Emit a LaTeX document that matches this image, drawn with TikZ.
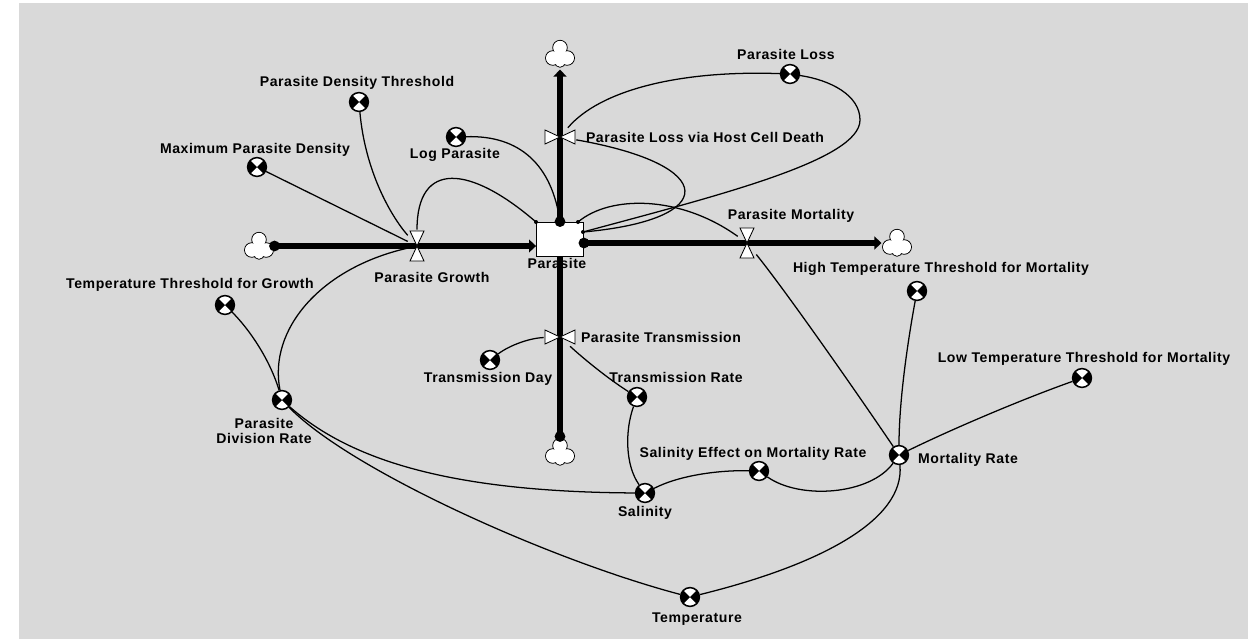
\documentclass[tikz,border=0pt]{standalone}
\usepackage{fontspec}
\setmainfont{Liberation Sans}[LetterSpace=4]
\usetikzlibrary{arrows.meta}

\definecolor{bg}{gray}{0.85}

\tikzstyle{dot} = [circle, minimum width=0.1cm, fill, inner sep=0pt]
\tikzstyle{bigdot} = [circle, minimum width=0.27cm, fill, inner sep=0pt]
\tikzstyle{txt} = [font=\bfseries\fontsize{10}{10.7}\selectfont, inner sep=0pt]
\tikzstyle{lbl} = [txt, text height=7.2pt, text depth=0pt]
\tikzstyle{stock} = [rectangle, draw, line width=0.6pt, fill=white, minimum width=1.175cm, minimum height=0.85cm]
\tikzstyle{conv} = [circle, draw, line width=1.1pt, fill=white, minimum size=0.47cm, inner sep=0pt,
  path picture={
    \fill[black] (path picture bounding box.center) -- +(-45:0.3cm) arc[start angle=-45, end angle=45, radius=0.3cm] -- cycle;
    \fill[black] (path picture bounding box.center) -- +(135:0.3cm) arc[start angle=135, end angle=225, radius=0.3cm] -- cycle;}]
\tikzstyle{vvalve} = [rectangle, inner sep=0pt, minimum width=0.45cm, minimum height=0.8cm,
  path picture={
    \draw[fill=white, line width=0.6pt]
      (path picture bounding box.center) -- +(-0.175cm,0.375cm) -- +(0.175cm,0.375cm) -- cycle
      (path picture bounding box.center) -- +(-0.175cm,-0.375cm) -- +(0.175cm,-0.375cm) -- cycle;}]
\tikzstyle{hvalve} = [rectangle, inner sep=0pt, minimum width=0.8cm, minimum height=0.45cm,
  path picture={
    \draw[fill=white, line width=0.6pt]
      (path picture bounding box.center) -- +(-0.375cm,-0.175cm) -- +(-0.375cm,0.175cm) -- cycle
      (path picture bounding box.center) -- +(0.375cm,-0.175cm) -- +(0.375cm,0.175cm) -- cycle;}]
% cloud: three puffs and a small one
\tikzstyle{cloudy} = [rectangle, inner sep=0pt, minimum size=0.76cm,
  path picture={
    \draw[line width=0.7pt]
      (path picture bounding box.center) +(0,0.16cm) circle[radius=0.18cm]
      +(-0.18cm,-0.1cm) circle[radius=0.18cm] +(0.18cm,-0.1cm) circle[radius=0.18cm]
      +(0,-0.2cm) circle[radius=0.13cm];
    \fill[white]
      (path picture bounding box.center) +(0,0.16cm) circle[radius=0.168cm]
      +(-0.18cm,-0.1cm) circle[radius=0.168cm] +(0.18cm,-0.1cm) circle[radius=0.168cm]
      +(0,-0.2cm) circle[radius=0.118cm] +(0,0) circle[radius=0.15cm];}]
\tikzstyle{pipe} = [line width=4.2pt]
\tikzstyle{link} = [line width=0.9pt]

\begin{document}
\begin{tikzpicture}[x=0.025cm, y=-0.025cm]
\fill[white] (0,0) rectangle (1248,639);
\fill[bg] (19,3) rectangle (1248,639);
%\draw[step=50, very thin, black!20] (0,0) grid (1248,639);

% stock, flows and clouds
\node[stock] (P) at (560,239) {};
\node[lbl] (Plab) at (557,263) {Parasite};
\node[cloudy] (CL) at (259,246) {};
\node[cloudy] (CT) at (560,54) {};
\node[cloudy] (CR) at (897,243) {};
\node[cloudy] (CB) at (560,452) {};
\draw[pipe, -{Triangle[length=5pt, width=9pt]}] (CL.east) -- (P.west |- 0,246);
\draw[pipe, -{Triangle[length=5pt, width=9pt]}] (P.north) -- (CT.south);
\draw[pipe, -{Triangle[length=5pt, width=9pt]}] (P.east |- 0,243) -- (CR.west);
\draw[pipe] (CB.north) -- (P.south);
\node[vvalve] (PG) at (417,246) {};
\node[vvalve] (PM) at (747,243) {};
\node[hvalve] (PLHD) at (560,137) {};
\node[hvalve] (PT) at (560,337) {};
\node[bigdot] (d1) at (CL.east) {};
\node[bigdot] (d2) at (P.north) {};
\node[bigdot] (d3) at (P.east |- PM) {};
\node[bigdot] (d4) at (CB.north) {};

% converters
\node[conv] (PDT) at (359,102) {};
\node[conv] (MPD) at (257,167) {};
\node[conv] (LP) at (456,137) {};
\node[conv] (PL) at (790,74) {};
\node[conv] (TTG) at (225,305) {};
\node[conv] (PDR) at (282,400) {};
\node[conv] (TD) at (490,360) {};
\node[conv] (TR) at (637,397) {};
\node[conv] (Sal) at (645,493) {};
\node[conv] (SEMR) at (759,471) {};
\node[conv] (MR) at (899,455) {};
\node[conv] (HTTM) at (917,291) {};
\node[conv] (LTTM) at (1082,378) {};
\node[conv] (Temp) at (690,597) {};

% labels
\node[lbl] at (357,81) {Parasite Density Threshold};
\node[lbl] at (255,148) {Maximum Parasite Density};
\node[lbl] at (455,153) {Log Parasite};
\node[lbl] at (786,54) {Parasite Loss};
\node[lbl] at (705,137) {Parasite Loss via Host Cell Death};
\node[lbl] at (432,277) {Parasite Growth};
\node[lbl] at (791,214) {Parasite Mortality};
\node[lbl] at (941,267) {High Temperature Threshold for Mortality};
\node[lbl] at (1084,357) {Low Temperature Threshold for Mortality};
\node[lbl] at (190,283) {Temperature Threshold for Growth};
\node[txt, align=center, anchor=north] at (264,418) {Parasite\\Division Rate};
\node[lbl] at (488,377) {Transmission Day};
\node[lbl] at (676,377) {Transmission Rate};
\node[lbl] at (661,337) {Parasite Transmission};
\node[lbl] at (645,511) {Salinity};
\node[lbl] at (753,452) {Salinity Effect on Mortality Rate};
\node[lbl] at (968,458) {Mortality Rate};
\node[lbl] at (697,617) {Temperature};

% connectors
\coordinate (p1) at (536,222);
\coordinate (p2) at (578,222);
\coordinate (p3) at (583,232);
\draw[link] (p1) .. controls (470,165) and (417,160) .. (PG.north);
\draw[link] (MPD) -- (PG);
\draw[link] (PDT) .. controls (365,170) and (390,215) .. (PG);
\draw[link] (PDR) .. controls (268,330) and (320,268) .. (PG);
\draw[link] (TTG) .. controls (250,330) and (270,360) .. (PDR);
\draw[link] (LP) .. controls (520,135) and (552,165) .. (P.north);
\draw[link] (p2) .. controls (610,195) and (680,195) .. (PM);
\draw[link] (p3) .. controls (720,195) and (860,160) .. (860,120) .. controls (860,95) and (830,80) .. (PL);
\draw[link] (PL) .. controls (680,70) and (600,90) .. (PLHD);
\draw[link] (p3) .. controls (720,220) and (720,165) .. (PLHD);
\draw[link] (MR) .. controls (855,390) and (785,290) .. (PM);
\draw[link] (HTTM) .. controls (908,340) and (899,400) .. (MR);
\draw[link] (LTTM) .. controls (1020,400) and (950,430) .. (MR);
\draw[link] (SEMR) .. controls (800,500) and (870,495) .. (MR);
\draw[link] (Sal) .. controls (680,475) and (720,470) .. (SEMR);
\draw[link] (TR) .. controls (625,430) and (625,465) .. (Sal);
\draw[link] (PT) .. controls (585,360) and (610,380) .. (TR);
\draw[link] (TD) .. controls (510,345) and (530,338) .. (PT);
\draw[link] (PDR) .. controls (350,460) and (450,492) .. (Sal);
\draw[link] (PDR) .. controls (350,470) and (550,560) .. (Temp);
\draw[link] (Temp) .. controls (820,565) and (905,520) .. (MR);
\node[dot] (s1) at (p1) {};
\node[dot] (s2) at (p2) {};
\node[dot] (s3) at (p3) {};
\end{tikzpicture}
\end{document}
